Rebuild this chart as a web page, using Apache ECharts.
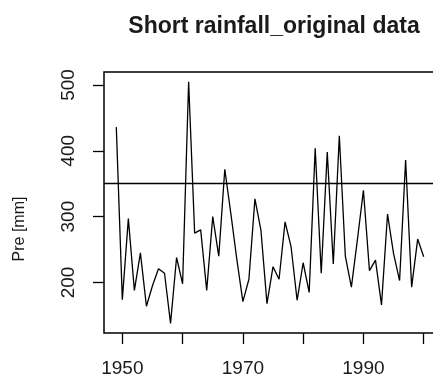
<!DOCTYPE html>
<html>
<head>
<meta charset="utf-8">
<title>Short rainfall_original data</title>
<script src="https://cdn.jsdelivr.net/npm/echarts@6/dist/echarts.min.js"></script>
<style>
  html, body { margin: 0; padding: 0; background: #ffffff; }
  #chart { width: 433px; height: 378px; }
</style>
</head>
<body>
<div id="chart"></div>
<script>
// Annual short-rains totals (mm), 1949-2000
const years = [
  1949, 1950, 1951, 1952, 1953, 1954, 1955, 1956, 1957, 1958,
  1959, 1960, 1961, 1962, 1963, 1964, 1965, 1966, 1967, 1968,
  1969, 1970, 1971, 1972, 1973, 1974, 1975, 1976, 1977, 1978,
  1979, 1980, 1981, 1982, 1983, 1984, 1985, 1986, 1987, 1988,
  1989, 1990, 1991, 1992, 1993, 1994, 1995, 1996, 1997, 1998,
  1999, 2000
];
const rainfall = [
  436, 174, 297, 188, 245, 164, 195, 221, 214, 138,
  238, 198, 505, 275, 280, 188, 300, 240, 372, 305,
  235, 171, 205, 327, 279, 168, 224, 205, 292, 254,
  173, 230, 185, 404, 214, 398, 228, 423, 240, 193,
  265, 340, 218, 234, 166, 304, 244, 203, 386, 193,
  266, 239
];
const threshold = 351;

const xTicks = [1950, 1960, 1970, 1980, 1990, 2000];
const xLabels = [1950, 1970, 1990];
const yTicks = [200, 300, 400, 500];

// R-style axis limits: data range widened by 4% on each side
function paddedRange(values) {
  const lo = Math.min(...values), hi = Math.max(...values);
  const pad = (hi - lo) * 0.04;
  return [lo - pad, hi + pad];
}
const xRange = paddedRange(years);
const yRange = paddedRange(rainfall);

const seriesData = years.map((y, i) => [y, rainfall[i]]);

const FONT = '"Liberation Sans", Arial, Helvetica, sans-serif';
const INK = '#1a1a1a';

const chart = echarts.init(document.getElementById('chart'), null, { renderer: 'canvas' });

chart.setOption({
  backgroundColor: '#ffffff',
  animation: false,
  title: {
    text: 'Short rainfall_original data',
    left: 269,
    top: 10,
    textAlign: 'center',
    textStyle: { fontFamily: FONT, fontSize: 23, fontWeight: 'bold', color: INK }
  },
  grid: {
    left: 104, top: 72, width: 332, height: 261,
    outerBoundsMode: 'none',
    containLabel: false,
    show: true, borderColor: '#000', borderWidth: 1.5, backgroundColor: 'transparent'
  },
  xAxis: {
    type: 'value',
    min: xRange[0], max: xRange[1],
    axisLine: { show: false },
    splitLine: { show: false },
    axisTick: {
      show: true, inside: false, length: 11,
      customValues: xTicks,
      lineStyle: { color: '#000', width: 1.3 }
    },
    axisLabel: {
      customValues: xLabels,
      formatter: v => String(v),
      margin: 26,
      fontFamily: FONT, fontSize: 19, color: INK
    }
  },
  yAxis: {
    type: 'value',
    min: yRange[0], max: yRange[1],
    axisLine: { show: false },
    splitLine: { show: false },
    axisTick: {
      show: true, inside: false, length: 11,
      customValues: yTicks,
      lineStyle: { color: '#000', width: 1.3 }
    },
    axisLabel: {
      customValues: yTicks,
      formatter: v => String(v),
      rotate: 90,
      margin: 26,
      fontFamily: FONT, fontSize: 19, color: INK
    }
  },
  graphic: [{
    type: 'text',
    x: 20, y: 229,
    rotation: Math.PI / 2,
    style: {
      text: 'Pre [mm]',
      fontFamily: FONT, fontSize: 16, fill: INK,
      textAlign: 'center', textVerticalAlign: 'middle'
    }
  }],
  series: [{
    type: 'line',
    data: seriesData,
    showSymbol: false,
    symbol: 'none',
    lineStyle: { color: '#000', width: 1.3 },
    silent: true,
    markLine: {
      silent: true,
      symbol: ['none', 'none'],
      label: { show: false },
      lineStyle: { color: '#000', width: 1.3, type: 'solid' },
      data: [{ yAxis: threshold }]
    }
  }]
});
</script>
</body>
</html>
